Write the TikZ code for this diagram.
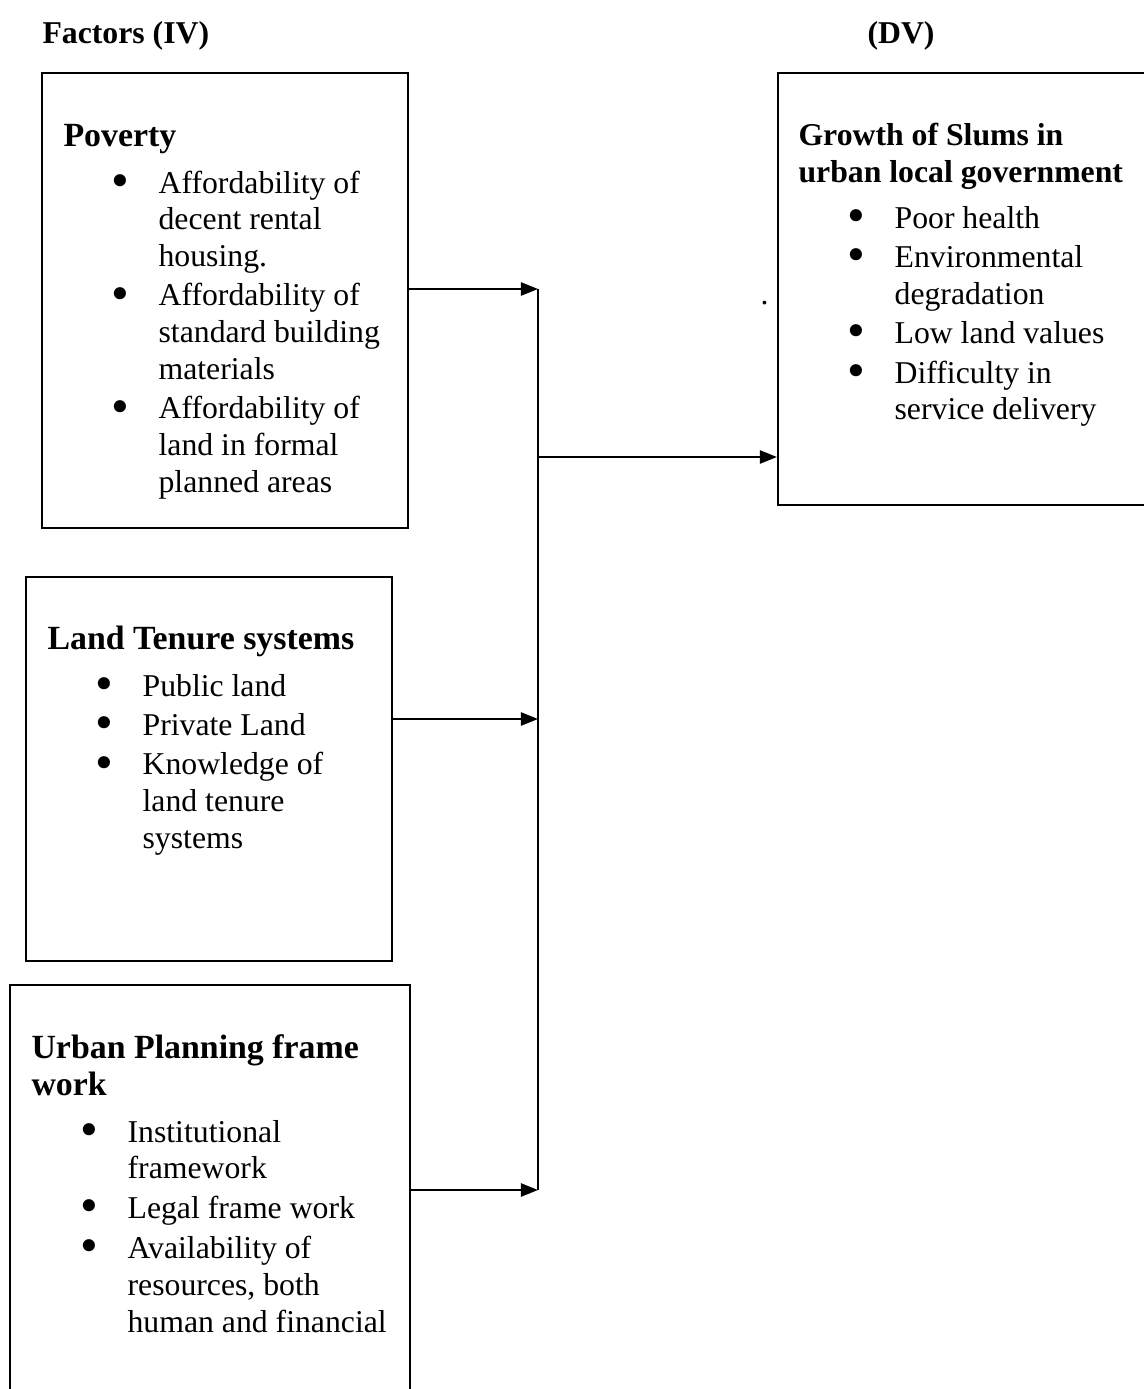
\documentclass[tikz,border=0pt]{standalone}
\usepackage{fontspec}
\usepackage{graphicx}
\setmainfont{Liberation Serif}
\usetikzlibrary{arrows.meta,fit}

\tikzset{
  box/.style={draw, line width=0.8pt, inner sep=0pt},
  toplabel/.style={anchor=base west, inner sep=0pt, font=\fontsize{12}{14}\selectfont\bfseries},
  head/.style={anchor=base west, inner sep=0pt, font=\fontsize{12.8}{14}\selectfont\bfseries},
  items/.style={anchor=base west, inner sep=0pt, font=\fontsize{12}{13.9}\selectfont},
  link/.style={line width=0.8pt},
  arr/.style={line width=0.8pt, -{Triangle[length=6.5pt,width=5pt]}}
}
\newcommand{\bl}{\kern-0.8pt\smash{\raisebox{-2.4pt}{\scalebox{1.6}{\textbullet}}}}

\begin{document}
\begin{tikzpicture}[x=0.378pt, y=-0.378pt]
\useasboundingbox (0,0) rectangle (1144,1389);

\node[toplabel] (iv) at (42,43) {Factors (IV)};
\node[toplabel] (dv) at (867,43) {(DV)};

% the boxes
\node[box, fit={(42,73) (408,528)}] (poverty) {};
\node[box, fit={(26,577) (392,961)}] (tenure) {};
\node[box, fit={(10,985) (410,1400)}] (planning) {};
\node[box, fit={(778,73) (1150,505)}] (slums) {};

\node[head] (povertyhead) at (63,146) {Poverty};
\node[items] (povertylist) at (111,193) {\begin{tabular}[t]{@{}p{17.8pt}@{}l@{}}
\bl & Affordability of\\ & decent rental\\ & housing.\\[1pt]
\bl & Affordability of\\ & standard building\\ & materials\\[1pt]
\bl & Affordability of\\ & land in formal\\ & planned areas
\end{tabular}};

\node[head] (tenurehead) at (47,649) {Land Tenure systems};
\node[items] (tenurelist) at (95,696) {\begin{tabular}[t]{@{}p{17.8pt}@{}l@{}}
\bl & Public land\\[1pt]
\bl & Private Land\\[1pt]
\bl & Knowledge of\\ & land tenure\\ & systems
\end{tabular}};

\node[head] (planninghead) at (31,1058) {\begin{tabular}[t]{@{}l@{}}
Urban Planning frame\\ work
\end{tabular}};
\node[items] (planninglist) at (80,1142) {\begin{tabular}[t]{@{}p{17.8pt}@{}l@{}}
\bl & Institutional\\ & framework\\[1.2pt]
\bl & Legal frame work\\[1.2pt]
\bl & Availability of\\ & resources, both\\ & human and financial
\end{tabular}};

\node[toplabel] (slumshead) at (798,145) {\begin{tabular}[t]{@{}l@{}}
Growth of Slums in\\ urban local government
\end{tabular}};
\node[items] (slumslist) at (847,228) {\begin{tabular}[t]{@{}p{17.8pt}@{}l@{}}
\bl & Poor health\\[1pt]
\bl & Environmental\\ & degradation\\[1pt]
\bl & Low land values\\[1pt]
\bl & Difficulty in\\ & service delivery
\end{tabular}};

\node[items] (dot) at (760,304) {.};

% connectors
\coordinate (top) at (538,289);
\coordinate (mid) at (538,457);
\coordinate (low) at (538,719);
\coordinate (bot) at (538,1190);

\draw[link] (top) -- (bot);
\draw[arr] (poverty.east |- top) -- (top);
\draw[arr] (tenure.east |- low) -- (low);
\draw[arr] (planning.east |- bot) -- (bot);
\draw[arr] (mid) -- (slums.west |- mid);
\end{tikzpicture}
\end{document}
